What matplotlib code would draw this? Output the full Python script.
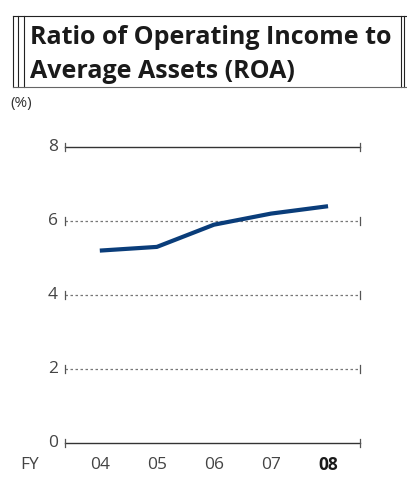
import matplotlib.pyplot as plt
from matplotlib.lines import Line2D

years = ['04', '05', '06', '07', '08']
roa = [5.2, 5.3, 5.9, 6.2, 6.4]
yticks = [0, 2, 4, 6, 8]

plt.rcParams['font.family'] = ['Open Sans', 'DejaVu Sans']

W, H = 407, 478
fig = plt.figure(figsize=(W / 100, H / 100), dpi=100)


def fx(px):
    return px / W


def fy(py):
    return 1 - py / H


# title box
box_col = '#222222'
for x in [12.5, 17.5, 23.5, 401, 403.5]:
    fig.add_artist(Line2D([fx(x), fx(x)], [fy(16), fy(87)], color=box_col, lw=0.8))
fig.add_artist(Line2D([fx(12.5), fx(407)], [fy(16), fy(16)], color=box_col, lw=0.8))
fig.add_artist(Line2D([fx(12.5), fx(407)], [fy(87), fy(87)], color='#666666', lw=0.8))
fig.text(fx(30), fy(44), 'Ratio of Operating Income to', fontsize=18,
         fontweight='bold', color='#1a1a1a', ha='left', va='baseline')
fig.text(fx(30), fy(78), 'Average Assets (ROA)', fontsize=18,
         fontweight='bold', color='#1a1a1a', ha='left', va='baseline')
fig.text(fx(10), fy(104), '(%)', fontsize=11, color='#333333', ha='left', va='center')

ax = fig.add_axes([fx(65), fy(443), fx(360) - fx(65), fy(147) - fy(443)])
x = list(range(len(years)))
ax.set_xlim(-0.61, 4.56)
ax.set_ylim(0, 8)
for sp in ax.spines.values():
    sp.set_visible(False)
ax.set_xticks([])
ax.set_yticks([])

for v in yticks:
    if v in (0, 8):
        ax.axhline(v, color='#333333', lw=1.0, clip_on=False)
    else:
        ax.axhline(v, color='#777777', lw=0.9, ls=(0, (2, 2)), clip_on=False)
    for xe in (0, 1):
        ax.plot([xe, xe], [v - 0.11, v + 0.11], color='#555555', lw=0.9,
                transform=ax.get_yaxis_transform(), clip_on=False)
    ax.text(-0.024, v, str(v), transform=ax.get_yaxis_transform(),
            ha='right', va='center', fontsize=12.5, color='#444444')

ax.plot(x, roa, color='#0a3d7a', lw=3, solid_capstyle='butt', zorder=3)

for i, lab in enumerate(years):
    last = i == len(years) - 1
    ax.text(i, -0.6, lab, ha='center', va='center', fontsize=12.5,
            color='#1a1a1a' if last else '#444444',
            fontweight='bold' if last else 'normal')
fig.text(fx(30), fy(465), 'FY', fontsize=12.5, color='#444444', ha='center', va='center')

fig.savefig('out.png', dpi=100)
